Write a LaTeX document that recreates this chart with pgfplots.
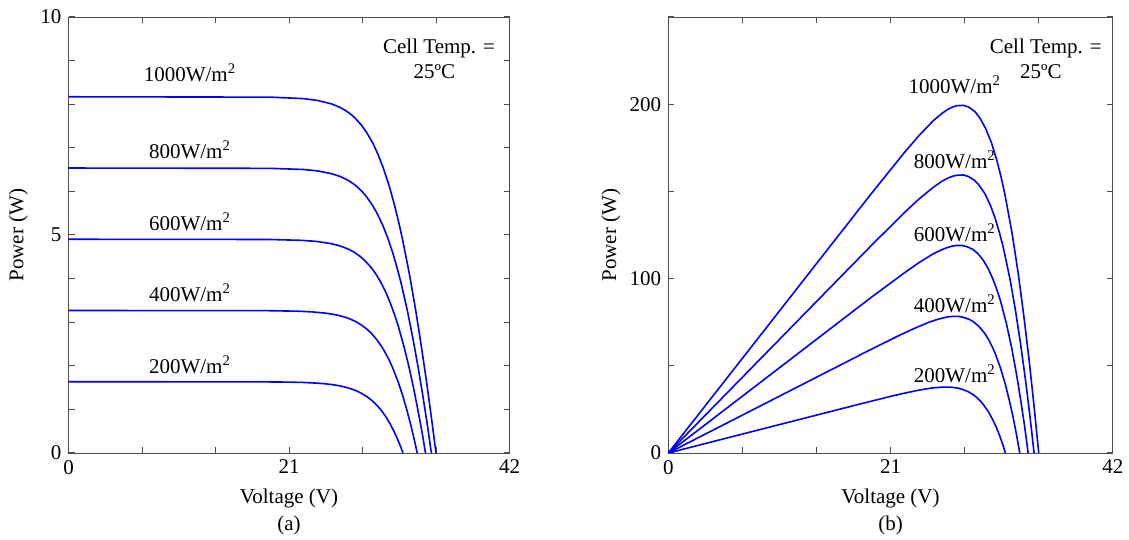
\documentclass[border=0pt]{standalone}
\usepackage{pgfplots}
\pgfplotsset{compat=1.18}
\usepackage{fontspec}
\setmainfont{Liberation Serif}

\pgfplotsset{
  pv/.style={
    scale only axis, width=220.5pt, height=218pt,
    xmin=0, xmax=42,
    xtick={0,7,...,42}, xticklabels={0,,,21,,,42},
    axis line style={black!70}, tick style={black!70, line width=0.5pt},
    major tick length=3pt,
    tick align=inside,
    ticklabel style={font=\fontsize{10.5}{12}\selectfont},
    label style={font=\fontsize{10.5}{12}\selectfont},
    xlabel={Voltage (V)}, ylabel={Power (W)},
    xlabel style={at={(axis description cs:0.5,-0.104)}, anchor=center},
    ylabel style={at={(axis description cs:-0.114,0.5)}, anchor=center},
    clip mode=individual,
  },
  curve/.style={blue, line width=0.8pt, line join=round},
}
\tikzset{lab/.style={font=\fontsize{10.5}{12}\selectfont, anchor=base}}

\begin{document}
\begin{tikzpicture}
\path[use as bounding box] (0,0) rectangle (564.5pt,270pt);

% (a) current-voltage curves
\begin{axis}[pv, at={(34.25pt,43.5pt)}, anchor=south west,
  ymin=0, ymax=10, ytick={0,1,...,10}, yticklabels={0,,,,,5,,,,,10}]
\addplot[curve] coordinates {(0,8.17)(19.15,8.162)(22.31,8.129)(23.67,8.088)(25.05,8.007)(25.87,7.925)(26.46,7.843)(26.92,7.762)(27.30,7.680)(27.91,7.516)(28.39,7.353)(28.98,7.108)(29.45,6.863)(29.98,6.536)(30.54,6.128)(31.01,5.719)(31.43,5.311)(31.81,4.902)(32.48,4.085)(33.07,3.268)(33.60,2.451)(34.10,1.634)(34.56,0.817)(35.00,0)};
\addplot[curve] coordinates {(0,6.536)(19.17,6.529)(22.33,6.503)(23.70,6.471)(25.07,6.405)(25.88,6.340)(26.47,6.275)(26.92,6.209)(27.30,6.144)(27.90,6.013)(28.37,5.882)(28.94,5.686)(29.40,5.490)(29.92,5.229)(30.45,4.902)(30.90,4.575)(31.29,4.248)(31.65,3.922)(32.27,3.268)(32.81,2.614)(33.30,1.961)(33.75,1.307)(34.17,0.654)(34.56,0)};
\addplot[curve] coordinates {(0,4.902)(19.08,4.897)(22.24,4.877)(23.60,4.853)(24.97,4.804)(25.78,4.755)(26.35,4.706)(26.81,4.657)(27.18,4.608)(27.77,4.510)(28.23,4.412)(28.79,4.265)(29.24,4.118)(29.73,3.922)(30.24,3.677)(30.66,3.431)(31.03,3.186)(31.37,2.941)(31.94,2.451)(32.44,1.961)(32.88,1.471)(33.28,0.980)(33.66,0.490)(34.00,0)};
\addplot[curve] coordinates {(0,3.268)(18.76,3.265)(21.91,3.252)(23.27,3.235)(24.64,3.203)(25.44,3.170)(26.01,3.137)(26.46,3.105)(26.83,3.072)(27.41,3.007)(27.86,2.941)(28.41,2.843)(28.84,2.745)(29.31,2.614)(29.80,2.451)(30.20,2.288)(30.55,2.124)(30.86,1.961)(31.39,1.634)(31.84,1.307)(32.23,0.980)(32.59,0.654)(32.91,0.327)(33.21,0)};
\addplot[curve] coordinates {(0,1.634)(17.86,1.632)(21.02,1.626)(22.38,1.618)(23.74,1.601)(24.53,1.585)(25.10,1.569)(25.54,1.552)(25.91,1.536)(26.48,1.503)(26.92,1.471)(27.45,1.422)(27.87,1.373)(28.33,1.307)(28.79,1.226)(29.17,1.144)(29.49,1.062)(29.78,0.980)(30.26,0.817)(30.66,0.654)(31.01,0.490)(31.32,0.327)(31.60,0.163)(31.85,0)};
\node[lab] at (axis cs:11.57,8.52) {1000W/m\textsuperscript{2}};
\node[lab] at (axis cs:11.57,6.76) {800W/m\textsuperscript{2}};
\node[lab] at (axis cs:11.57,5.11) {600W/m\textsuperscript{2}};
\node[lab] at (axis cs:11.57,3.47) {400W/m\textsuperscript{2}};
\node[lab] at (axis cs:11.57,1.83) {200W/m\textsuperscript{2}};
\node[lab] at (axis cs:35.29,9.17) {Cell Temp. =};
\node[lab] at (axis cs:34.85,8.59) {25ºC};
\node[lab, anchor=center] at (axis description cs:0.5,-0.166) {(a)};
\end{axis}

% (b) power-voltage curves
\begin{axis}[pv, at={(334.15pt,43.5pt)}, anchor=south west, width=222.25pt,
  ylabel style={at={(axis description cs:-0.129,0.5)}},
  ymin=0, ymax=250, ytick={0,50,...,250}, yticklabels={0,,100,,200,}]
\addplot[curve] coordinates {(0,0)(19.15,148.5)(22.31,172.3)(23.67,181.9)(25.05,190.6)(25.87,194.8)(26.46,197.2)(26.92,198.5)(27.30,199.2)(27.91,199.3)(28.39,198.3)(28.98,195.7)(29.45,192.0)(29.98,186.1)(30.54,177.8)(31.01,168.5)(31.43,158.6)(31.81,148.1)(32.48,126.1)(33.07,102.7)(33.60,78.2)(34.10,52.9)(34.56,26.8)(35.00,0)};
\addplot[curve] coordinates {(0,0)(19.17,118.9)(22.33,138.0)(23.70,145.7)(25.07,152.5)(25.88,155.9)(26.47,157.8)(26.92,158.8)(27.30,159.3)(27.90,159.4)(28.37,158.5)(28.94,156.3)(29.40,153.3)(29.92,148.6)(30.45,141.8)(30.90,134.3)(31.29,126.3)(31.65,117.9)(32.27,100.2)(32.81,81.5)(33.30,62.0)(33.75,41.9)(34.17,21.2)(34.56,0)};
\addplot[curve] coordinates {(0,0)(19.08,88.8)(22.24,103.0)(23.60,108.8)(24.97,114.0)(25.78,116.4)(26.35,117.8)(26.81,118.6)(27.18,119.0)(27.77,119.0)(28.23,118.3)(28.79,116.7)(29.24,114.4)(29.73,110.8)(30.24,105.6)(30.66,99.9)(31.03,93.9)(31.37,87.6)(31.94,74.4)(32.44,60.4)(32.88,45.9)(33.28,31.0)(33.66,15.7)(34.00,0)};
\addplot[curve] coordinates {(0,0)(18.76,58.2)(21.91,67.7)(23.27,71.5)(24.64,75.0)(25.44,76.6)(26.01,77.5)(26.46,78.1)(26.83,78.3)(27.41,78.3)(27.86,77.8)(28.41,76.7)(28.84,75.2)(29.31,72.8)(29.80,69.4)(30.20,65.7)(30.55,61.6)(30.86,57.5)(31.39,48.7)(31.84,39.5)(32.23,30.0)(32.59,20.2)(32.91,10.2)(33.21,0)};
\addplot[curve] coordinates {(0,0)(17.86,27.7)(21.02,32.5)(22.38,34.4)(23.74,36.1)(24.53,36.9)(25.10,37.4)(25.54,37.6)(25.91,37.8)(26.48,37.8)(26.92,37.6)(27.45,37.1)(27.87,36.3)(28.33,35.2)(28.79,33.5)(29.17,31.7)(29.49,29.8)(29.78,27.7)(30.26,23.5)(30.66,19.0)(31.01,14.5)(31.32,9.7)(31.60,4.9)(31.85,0)};
\node[lab] at (axis cs:27.07,206.4) {1000W/m\textsuperscript{2}};
\node[lab] at (axis cs:27.07,163.4) {800W/m\textsuperscript{2}};
\node[lab] at (axis cs:27.07,121.5) {600W/m\textsuperscript{2}};
\node[lab] at (axis cs:27.07,80.8) {400W/m\textsuperscript{2}};
\node[lab] at (axis cs:27.07,40.4) {200W/m\textsuperscript{2}};
\node[lab] at (axis cs:35.67,229.2) {Cell Temp. =};
\node[lab] at (axis cs:35.2,214.9) {25ºC};
\node[lab, anchor=center] at (axis description cs:0.5,-0.166) {(b)};
\end{axis}
\end{tikzpicture}
\end{document}
